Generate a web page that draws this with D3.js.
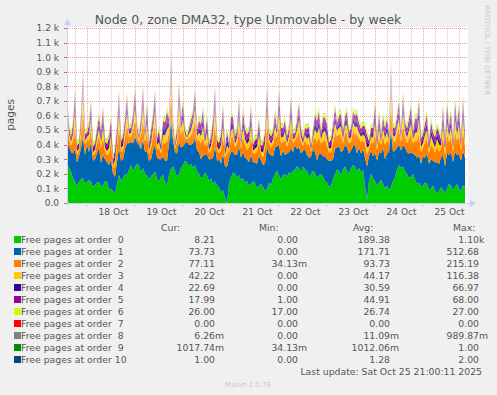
<!DOCTYPE html>
<html>
<head>
<meta charset="utf-8">
<script src="https://cdn.jsdelivr.net/npm/d3@7"></script>
<style>
body { margin: 0; background: #f0f0f0; }
svg { display: block; font-family: "DejaVu Sans", sans-serif; }
text { white-space: pre; }
</style>
</head>
<body>
<script>
var w = 497, h = 395;

// one reading every hour, starting 17 Oct 14:00
var startTime = Date.UTC(2025, 9, 17, 14);
var stepHours = 1;

var order0 = [280,240,215,170,146,120,146,165,170,130,146,160,146,110,123,140,146,115,123,150,
              146,90,100,80,66,130,192,150,170,200,192,230,260,220,250,270,260,210,238,200,
              192,160,180,200,215,170,146,180,192,140,123,190,238,250,220,180,200,240,260,290,
              280,250,270,240,260,220,200,170,180,210,190,150,170,130,150,120,110,70,90,40,
              0,130,180,210,200,170,190,160,170,140,150,120,130,150,140,100,120,130,110,80,
              100,140,120,170,200,220,190,160,190,200,180,210,200,220,230,250,240,210,250,230,
              220,180,200,220,210,170,190,200,180,150,140,110,120,160,200,230,220,190,230,250,
              220,200,240,260,250,220,240,210,230,120,20,150,200,170,150,120,140,160,130,100,
              120,90,110,150,180,230,260,240,250,220,200,170,180,200,160,130,140,110,120,140,
              130,90,100,120,90,60,80,110,90,70,100,130,120,90,110,130,100,80,120,110];
var order1 = [120,150,135,170,226,160,174,210,287,200,254,190,274,180,177,200,234,160,207,150,
              134,170,200,120,114,150,188,140,130,170,218,180,160,190,206,150,140,160,200,150,
              164,130,120,160,186,140,154,120,128,150,167,220,349,180,130,160,217,140,130,120,
              140,150,130,170,189,140,150,130,146,120,140,150,130,180,237,170,190,200,249,210,
              250,180,170,140,130,160,200,150,180,170,150,160,200,130,140,170,210,160,150,190,
              287,200,210,150,180,170,203,160,170,130,160,140,174,130,170,120,142,130,110,140,
              110,130,120,150,140,120,150,140,140,170,160,180,170,140,170,150,170,160,130,150,
              160,140,120,130,150,120,140,130,140,190,230,170,160,150,193,170,210,180,250,200,
              220,260,397,200,180,150,140,120,147,160,150,170,166,140,170,180,187,160,200,170,
              210,180,200,170,190,220,190,200,240,180,243,200,230,190,244,200,230,210,238,200];
var order2 = [150,60,45,90,158,50,38,100,215,70,34,80,105,40,41,70,83,100,124,55,
              49,80,109,40,72,110,160,60,59,95,133,45,38,90,126,50,25,100,146,70,
              126,50,75,110,149,60,75,40,92,120,133,80,215,60,25,80,161,90,116,40,
              18,50,65,100,129,70,83,110,126,60,99,45,59,120,161,70,41,90,129,60,
              92,40,92,110,49,80,133,60,109,90,65,100,133,55,59,80,92,45,55,100,
              161,70,49,80,92,60,153,90,59,110,45,75,140,60,32,90,119,80,32,70,
              68,100,28,60,99,130,113,70,102,120,92,60,55,110,113,80,79,120,52,90,
              95,70,59,110,75,130,65,80,62,100,83,50,59,90,136,70,106,60,83,100,
              92,60,215,80,59,100,113,60,143,80,62,110,126,70,95,120,156,80,59,110,
              102,70,99,90,65,110,83,60,133,80,136,90,106,70,140,100,133,70,146,80];
var order3 = [90,30,25,45,110,25,20,50,116,30,18,40,63,20,25,35,50,45,72,25,
              28,40,65,20,43,50,95,30,35,45,79,20,22,40,75,25,15,45,87,30,
              75,25,45,50,89,30,45,20,55,55,79,35,116,30,15,35,116,40,69,20,
              11,25,39,45,77,30,49,50,75,30,59,20,35,55,116,30,25,40,77,25,
              55,20,55,50,28,35,79,25,65,40,39,45,79,25,35,35,55,20,33,45,
              116,30,28,35,55,25,91,40,35,50,27,35,83,25,19,40,71,35,19,30,
              41,45,17,25,59,55,67,30,61,55,55,25,33,50,67,35,47,55,31,40,
              57,30,35,50,45,55,39,35,37,45,49,20,35,40,81,30,63,25,49,45,
              55,25,116,35,35,45,67,25,85,35,37,50,75,30,57,55,93,35,35,50,
              61,30,59,40,39,50,49,25,79,35,81,40,63,30,83,45,79,30,87,35];
var order4 = [65,20,18,30,65,18,15,35,67,20,12,30,50,15,18,25,35,30,60,18,
              22,30,50,15,32,35,67,20,25,30,59,15,17,30,56,18,10,30,65,20,
              56,18,33,35,66,20,33,15,41,40,59,25,67,20,10,25,67,30,52,15,
              8,18,29,30,57,20,36,35,56,20,44,15,25,40,67,20,18,30,57,18,
              41,15,41,35,22,25,59,18,50,30,29,30,59,18,25,25,41,15,24,30,
              67,20,22,25,41,18,67,30,25,35,20,25,62,18,14,30,53,25,14,20,
              30,30,12,18,44,40,50,20,45,40,41,18,24,35,50,25,35,40,23,30,
              42,20,25,35,33,40,29,25,27,30,36,15,25,30,60,20,47,18,36,30,
              41,18,67,25,25,30,50,18,63,25,27,35,56,20,42,40,67,25,25,35,
              45,20,44,30,29,35,36,18,59,25,60,30,47,20,62,30,59,20,65,25];
var order5 = [68,25,20,40,66,22,18,45,68,25,18,40,60,20,25,35,48,40,66,22,
              28,40,63,20,42,45,68,25,35,40,68,20,23,40,68,22,15,40,68,25,
              68,22,45,45,68,25,45,20,54,50,68,30,68,25,15,30,68,40,68,20,
              1,22,38,40,68,25,48,45,68,25,58,20,35,50,68,25,25,40,68,22,
              54,20,54,45,28,30,68,22,63,40,38,40,68,22,35,30,54,20,33,40,
              68,25,28,30,54,22,68,40,35,45,26,30,68,22,18,40,68,30,18,25,
              41,40,17,22,58,50,66,25,61,50,54,22,33,45,66,30,46,50,30,35,
              57,25,35,45,45,50,38,30,37,40,48,20,35,35,68,25,62,22,48,40,
              54,22,68,30,35,40,66,22,68,30,37,45,68,25,57,50,68,30,35,45,
              61,25,58,35,38,45,48,22,68,30,68,35,62,25,68,40,68,25,68,30];
var order6 = [27,27,27,27,27,27,27,27,27,27,27,27,27,27,27,27,27,27,27,27,
              27,27,27,27,27,27,27,27,27,27,27,27,27,27,27,27,27,27,27,27,
              27,27,27,27,27,27,27,27,27,27,27,27,27,27,27,27,27,27,27,27,
              27,27,27,27,27,27,27,27,27,27,27,27,27,27,27,27,27,27,27,27,
              17,17,17,17,27,27,27,27,27,27,27,27,27,27,27,27,27,27,27,27,
              27,27,27,27,27,27,27,27,27,27,27,27,27,27,27,27,27,27,27,27,
              27,27,27,27,27,27,27,27,27,27,27,27,27,27,27,27,27,27,27,27,
              27,27,27,27,27,27,27,27,27,27,27,27,27,27,27,27,27,27,27,27,
              27,27,27,27,27,27,27,27,27,27,27,27,27,27,27,27,27,27,27,27,
              27,27,27,27,27,27,27,27,27,27,27,27,27,27,27,27,27,27,27,27];
var order7 = [0,0,0,0,0,0,0,0,0,0,0,0,0,0,0,0,0,0,0,0, 0,0,0,0,0,0,0,0,0,0,0,0,0,0,0,0,0,0,0,0,
              0,0,0,0,0,0,0,0,0,0,0,0,0,0,0,0,0,0,0,0, 0,0,0,0,0,0,0,0,0,0,0,0,0,0,0,0,0,0,0,0,
              0,0,0,0,0,0,0,0,0,0,0,0,0,0,0,0,0,0,0,0, 0,0,0,0,0,0,0,0,0,0,0,0,0,0,0,0,0,0,0,0,
              0,0,0,0,0,0,0,0,0,0,0,0,0,0,0,0,0,0,0,0, 0,0,0,0,0,0,0,0,0,0,0,0,0,0,0,0,0,0,0,0,
              0,0,0,0,0,0,0,0,0,0,0,0,0,0,0,0,0,0,0,0, 0,0,0,0,0,0,0,0,0,0,0,0,0,0,0,0,0,0,0,0];
var order8 = [0,0,0,0,0,0,0,0,0,0,0,0,0,0,0,0,0,0,0,0, 0,0,0,0,0,0,0,0,0,0,0,0,0,0,0,0,0,0,0,0,
              0,0,0,0,0,0,0,0,0,0,0,0,0,0,0,0,0,0,0,0, 0,0,0,0,0,0,0,0,0,0,0,0,0,0,0,0,0,0,0,0,
              0,0,0,0,0,0,0,0,0,0,0,0,0,0,0,0,0,0,0,0, 0,0,0,0,0,0,0,0,0,0,0,0,0,0,0,0,0,0,0,0,
              0,0,0,0,0,0,0,0,0,0,0,0,0,0,0,0,0,0,0,0, 0,0,0,0,0,0,0,0,0,0,0,0,0,0,0,0,0,0,0,0,
              0,0,0,0,0,0,0,0,0,0,0,0,0,0,0,0,0,0,0,0, 0,0,0,0,0,0,0,0,0,0,0,0,0,0,0,0,0,0,0,1];
var order9 = [1,1,1,1,1,1,1,1,1,1,1,1,1,1,1,1,1,1,1,1, 1,1,1,1,1,1,1,1,1,1,1,1,1,1,1,1,1,1,1,1,
              1,1,1,1,1,1,1,1,1,1,1,1,1,1,1,1,1,1,1,1, 1,1,1,1,1,1,1,1,1,1,1,1,1,1,1,1,1,1,1,1,
              1,1,1,1,1,1,1,1,1,1,1,1,1,1,1,1,1,1,1,1, 1,1,1,1,1,1,1,1,1,1,1,1,1,1,1,1,1,1,1,1,
              1,1,1,1,1,1,1,1,1,1,1,1,1,1,1,1,1,1,1,1, 1,1,1,1,1,1,1,1,1,1,1,1,1,1,1,1,1,1,1,1,
              1,1,1,1,1,1,1,1,1,1,1,1,1,1,1,1,1,1,1,1, 1,1,1,1,1,1,1,1,1,1,1,1,1,1,1,1,1,1,1,1];
var order10 = [2,2,1,1,1,1,2,1,1,1,2,1,1,1,1,2,1,1,1,1, 2,1,1,1,1,2,1,1,1,2,1,1,1,1,2,1,1,1,1,2,
               1,1,2,1,1,1,1,2,1,1,1,1,2,1,1,1,2,1,1,1, 1,2,1,1,1,1,2,1,1,1,1,2,1,1,1,2,1,1,1,1,
               2,1,1,1,2,1,1,1,1,2,1,1,1,1,2,1,1,1,2,1, 1,1,1,2,1,1,1,2,1,1,1,1,2,1,1,1,1,2,1,1,
               2,1,1,1,1,2,1,1,1,2,1,1,1,1,2,1,1,1,1,2, 1,1,2,1,1,1,1,2,1,1,1,2,1,1,1,1,2,1,1,1,
               1,2,1,1,1,2,1,1,1,1,2,1,1,1,1,2,1,1,1,2, 1,1,1,2,1,1,1,1,2,1,1,1,2,1,1,1,1,2,1,1];

var series = [order0, order1, order2, order3, order4, order5, order6, order7, order8, order9, order10];
var names = ["Free pages at order  0", "Free pages at order  1", "Free pages at order  2",
             "Free pages at order  3", "Free pages at order  4", "Free pages at order  5",
             "Free pages at order  6", "Free pages at order  7", "Free pages at order  8",
             "Free pages at order  9", "Free pages at order 10"];
var colors = ["#00CC00", "#0066B3", "#FF8000", "#FFCC00", "#330099", "#990099",
              "#CCFF00", "#FF0000", "#808080", "#008F00", "#00487D"];

var curVals = ["8.21", "73.73", "77.11", "42.22", "22.69", "17.99", "26.00", "0.00", "6.26m", "1017.74m", "1.00"];
var minVals = ["0.00", "0.00", "34.13m", "0.00", "0.00", "1.00", "17.00", "0.00", "0.00", "34.13m", "0.00"];
var avgVals = ["189.38", "171.71", "93.73", "44.17", "30.59", "44.91", "26.74", "0.00", "11.09m", "1012.06m", "1.28"];
var maxVals = ["1.10k", "512.68", "215.19", "116.38", "66.97", "68.00", "27.00", "0.00", "989.87m", "1.00", "2.00"];

var yTicks = [0, 100, 200, 300, 400, 500, 600, 700, 800, 900, 1000, 1100, 1200];
var yTickLabels = ["0.0", "0.1 k", "0.2 k", "0.3 k", "0.4 k", "0.5 k", "0.6 k", "0.7 k",
                   "0.8 k", "0.9 k", "1.0 k", "1.1 k", "1.2 k"];
var dayLabels = ["18 Oct", "19 Oct", "20 Oct", "21 Oct", "22 Oct", "23 Oct", "24 Oct", "25 Oct"];

var keys = names.map(function(d, i) { return "o" + i; });
var table = order0.map(function(v, i) {
    var row = { time: new Date(startTime + i * stepHours * 3600000) };
    series.forEach(function(s, k) { row[keys[k]] = s[i] || 0; });
    return row;
});

var x = d3.scaleUtc()
    .domain([new Date(Date.UTC(2025, 9, 17, 14)), new Date(Date.UTC(2025, 9, 25, 22))])
    .range([67, 467]);
var y = d3.scaleLinear().domain([0, 1200]).range([203, 28]);

var svg = d3.select("body").append("svg")
    .attr("width", w)
    .attr("height", h);

svg.append("rect").attr("width", w).attr("height", h).attr("fill", "#f0f0f0");
svg.append("rect")
    .attr("x", 67).attr("y", 27)
    .attr("width", 401).attr("height", 176)
    .attr("fill", "#ffffff");

// grid
var minor = x.ticks(d3.utcHour.every(6));
svg.append("g").selectAll("line")
    .data(minor)
    .enter()
    .append("line")
    .attr("x1", function(d) { return Math.round(x(d)) + 0.5; })
    .attr("x2", function(d) { return Math.round(x(d)) + 0.5; })
    .attr("y1", 27)
    .attr("y2", 206)
    .attr("stroke", function(d) { return d.getUTCHours() === 0 ? "#f0a0a0" : "#d0d0d0"; })
    .attr("stroke-dasharray", "1,1");

svg.append("g").selectAll("line")
    .data(yTicks)
    .enter()
    .append("line")
    .attr("x1", 64)
    .attr("x2", 468)
    .attr("y1", function(d) { return Math.round(y(d)) + 0.5; })
    .attr("y2", function(d) { return Math.round(y(d)) + 0.5; })
    .attr("stroke", "#f0a0a0")
    .attr("stroke-dasharray", "1,1");

// stacked areas, washed out towards the top like the thin spikes of the original
var defs = svg.append("defs");
var grad = defs.append("linearGradient")
    .attr("id", "fade")
    .attr("gradientUnits", "userSpaceOnUse")
    .attr("x1", 0).attr("x2", 0)
    .attr("y1", y(0)).attr("y2", y(1200));
[[0, "#ffffff"], [380 / 1200, "#ffffff"], [550 / 1200, "#b4b4b4"],
 [750 / 1200, "#7c7c7c"], [1000 / 1200, "#505050"], [1, "#404040"]].forEach(function(s) {
    grad.append("stop").attr("offset", s[0]).attr("stop-color", s[1]);
});
defs.append("mask").attr("id", "fadeMask")
    .append("rect")
    .attr("x", 0).attr("y", 0).attr("width", w).attr("height", h)
    .attr("fill", "url(#fade)");

var stacked = d3.stack().keys(keys)(table);
var area = d3.area()
    .x(function(d) { return x(d.data.time); })
    .y0(function(d) { return y(d[0]); })
    .y1(function(d) { return y(d[1]); });

svg.append("g")
    .attr("mask", "url(#fadeMask)")
    .selectAll("path")
    .data(stacked)
    .enter()
    .append("path")
    .attr("d", area)
    .attr("fill", function(d, i) { return colors[i]; });

// axes
var axisColor = "#c8d0f4";
svg.append("line").attr("x1", 67.5).attr("x2", 67.5).attr("y1", 206).attr("y2", 24)
    .attr("stroke", axisColor);
svg.append("path").attr("d", "M64,25L71,25L67.5,19Z").attr("fill", axisColor);
svg.append("line").attr("x1", 64).attr("x2", 471).attr("y1", 203.5).attr("y2", 203.5)
    .attr("stroke", axisColor);
svg.append("path").attr("d", "M470,200L470,207L476,203.5Z").attr("fill", axisColor);

svg.append("g").selectAll("line")
    .data(yTicks)
    .enter()
    .append("line")
    .attr("x1", 64).attr("x2", 67)
    .attr("y1", function(d) { return Math.round(y(d)) + 0.5; })
    .attr("y2", function(d) { return Math.round(y(d)) + 0.5; })
    .attr("stroke", "#e06060");

var yAxis = d3.axisLeft(y)
    .tickValues(yTicks)
    .tickFormat(function(d, i) { return yTickLabels[i]; })
    .tickSize(0)
    .tickPadding(8);
var gy = svg.append("g").attr("transform", "translate(67,0)").call(yAxis);
gy.select(".domain").remove();
gy.selectAll("text").attr("font-size", 9).attr("fill", "#555555")
    .attr("font-family", "DejaVu Sans, sans-serif");

var noons = dayLabels.map(function(d, i) { return new Date(Date.UTC(2025, 9, 18 + i, 12)); });
var xAxis = d3.axisBottom(x)
    .tickValues(noons)
    .tickFormat(function(d, i) { return dayLabels[i]; })
    .tickSize(0)
    .tickPadding(6);
var gx = svg.append("g").attr("transform", "translate(2,203)").call(xAxis);
gx.select(".domain").remove();
gx.selectAll("text").attr("font-size", 9).attr("fill", "#555555")
    .attr("font-family", "DejaVu Sans, sans-serif");

// title and side texts
svg.append("text")
    .attr("x", 248).attr("y", 24)
    .attr("text-anchor", "middle")
    .attr("font-size", 12.5)
    .attr("fill", "#555555")
    .text("Node 0, zone DMA32, type Unmovable - by week");

svg.append("text")
    .attr("transform", "translate(14,115) rotate(-90)")
    .attr("text-anchor", "middle")
    .attr("font-size", 10.5)
    .attr("fill", "#555555")
    .text("pages");

svg.append("text")
    .attr("transform", "translate(485,5) rotate(90)")
    .attr("font-size", 7)
    .attr("fill", "#c8c8c8")
    .text("RRDTOOL / TOBI OETIKER");

// legend
var legendFont = 9.3;
var heads = [["Cur:", 161], ["Min:", 259], ["Avg:", 353], ["Max:", 453]];
svg.append("g").selectAll("text")
    .data(heads)
    .enter()
    .append("text")
    .attr("x", function(d) { return d[1]; })
    .attr("y", 231)
    .attr("font-size", legendFont)
    .attr("fill", "#555555")
    .text(function(d) { return d[0]; });

var rows = svg.append("g").selectAll("g")
    .data(names)
    .enter()
    .append("g")
    .attr("transform", function(d, i) { return "translate(0," + (243 + i * 12) + ")"; });

rows.append("rect")
    .attr("x", 14).attr("y", -7)
    .attr("width", 7).attr("height", 7)
    .attr("fill", function(d, i) { return colors[i]; });
rows.append("text")
    .attr("x", 21)
    .attr("font-size", legendFont)
    .attr("fill", "#555555")
    .text(function(d) { return d; });

var cols = [[curVals, 215], [minVals, 298], [avgVals, 390], [maxVals, 479]];
cols.forEach(function(c) {
    rows.append("text")
        .attr("x", c[1])
        .attr("text-anchor", "end")
        .attr("font-size", legendFont)
        .attr("fill", "#555555")
        .text(function(d, i) { return c[0][i].replace(/[mk]$/, ""); });
    rows.append("text")
        .attr("x", c[1])
        .attr("font-size", legendFont)
        .attr("fill", "#555555")
        .text(function(d, i) { var m = c[0][i].match(/[mk]$/); return m ? m[0] : ""; });
});

svg.append("text")
    .attr("x", 482).attr("y", 375)
    .attr("text-anchor", "end")
    .attr("font-size", legendFont)
    .attr("fill", "#555555")
    .text("Last update: Sat Oct 25 21:00:11 2025");

svg.append("text")
    .attr("x", 248).attr("y", 387)
    .attr("text-anchor", "middle")
    .attr("font-size", 7)
    .attr("fill", "#c8c8c8")
    .text("Munin 2.0.76");
</script>
</body>
</html>
